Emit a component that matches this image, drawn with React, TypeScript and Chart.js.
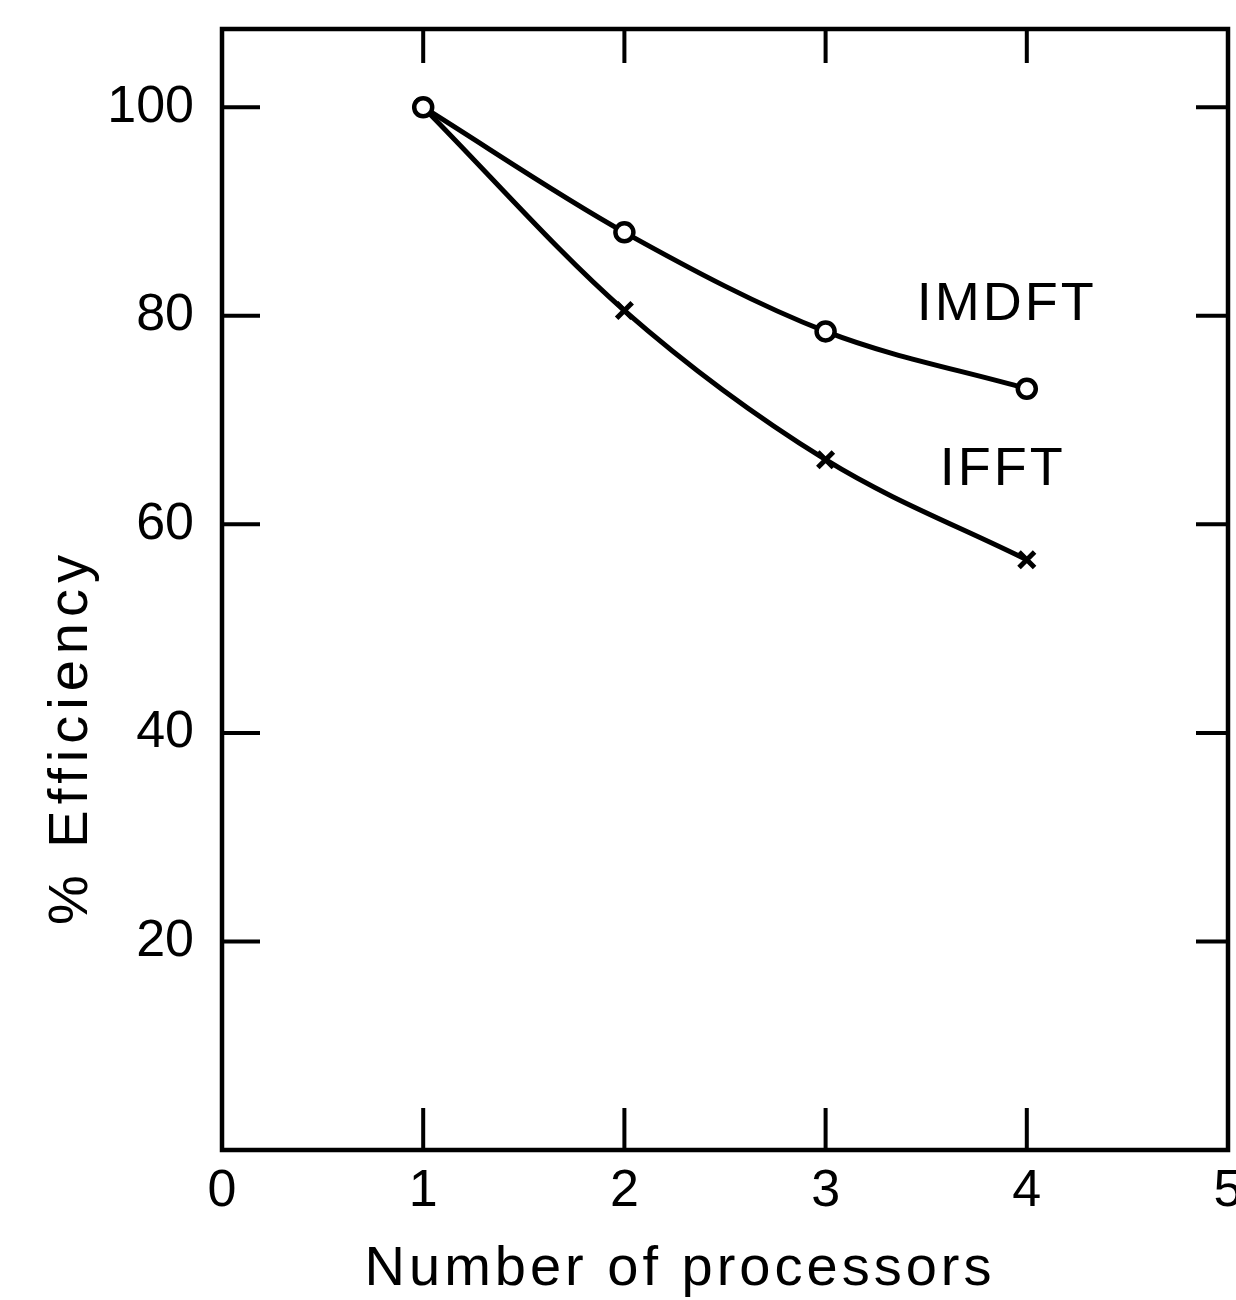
import React, { useEffect, useRef } from 'react';
import { Chart, registerables } from 'chart.js';

Chart.register(...registerables);

// ---- data ----
const processors = [1, 2, 3, 4];
const imdftEfficiency = [100, 88, 78.5, 73];
const ifftEfficiency = [100, 80.5, 66.2, 56.6];
const xTickValues = [0, 1, 2, 3, 4, 5];
const yTickValues = [20, 40, 60, 80, 100];
const innerXTicks = [1, 2, 3, 4];
const seriesNames = ['IMDFT', 'IFFT'];
const seriesLabelX = [3.9, 3.88];
const seriesLabelY = [81, 65.2];
const xTitle = 'Number of processors';
const yTitle = '% Efficiency';

const FONT = '"Liberation Sans", "DejaVu Sans", sans-serif';

const zeroPadding = (s: any) => {
  s.paddingTop = 0;
  s.paddingBottom = 0;
  s.paddingLeft = 0;
  s.paddingRight = 0;
};

const framePlugin = {
  id: 'framePlugin',
  afterDraw(chart: any) {
    const { ctx, chartArea, scales } = chart;
    const xs = scales.x;
    const ys = scales.y;
    const { left, right, top, bottom } = chartArea;
    ctx.save();
    ctx.strokeStyle = '#000';
    ctx.lineCap = 'square';
    // frame
    ctx.lineWidth = 4.5;
    ctx.strokeRect(left, top, right - left, bottom - top);
    // inner ticks
    ctx.lineWidth = 4;
    ctx.beginPath();
    innerXTicks.forEach((v) => {
      const px = xs.getPixelForValue(v);
      ctx.moveTo(px, bottom);
      ctx.lineTo(px, bottom - 40);
      ctx.moveTo(px, top);
      ctx.lineTo(px, top + 32);
    });
    yTickValues.forEach((v) => {
      const py = ys.getPixelForValue(v);
      ctx.moveTo(left, py);
      ctx.lineTo(left + 36, py);
      ctx.moveTo(right, py);
      ctx.lineTo(right - 30, py);
    });
    ctx.stroke();

    // series labels
    ctx.fillStyle = '#000';
    ctx.font = `54px ${FONT}`;
    (ctx as any).letterSpacing = '3px';
    ctx.textAlign = 'center';
    ctx.textBaseline = 'middle';
    seriesNames.forEach((name, i) => {
      ctx.fillText(name, xs.getPixelForValue(seriesLabelX[i]), ys.getPixelForValue(seriesLabelY[i]));
    });

    // axis titles
    ctx.font = `56px ${FONT}`;
    (ctx as any).letterSpacing = '4px';
    ctx.fillText(xTitle, 680, 1270);
    ctx.translate(72, 737);
    ctx.rotate(-Math.PI / 2);
    (ctx as any).letterSpacing = '6px';
    ctx.fillText(yTitle, 0, 0);
    ctx.restore();
  },
};

export default function App() {
  const canvasRef = useRef<HTMLCanvasElement | null>(null);

  useEffect(() => {
    if (!canvasRef.current) return;
    const chart = new Chart(canvasRef.current, {
      type: 'line',
      data: {
        datasets: [
          {
            label: seriesNames[0],
            data: processors.map((p, i) => ({ x: p, y: imdftEfficiency[i] })),
            borderColor: '#000',
            borderWidth: 5,
            pointStyle: 'circle',
            pointRadius: 9,
            pointBorderWidth: 4.5,
            pointBackgroundColor: '#fff',
            pointBorderColor: '#000',
            cubicInterpolationMode: 'monotone',
            fill: false,
          },
          {
            label: seriesNames[1],
            data: processors.map((p, i) => ({ x: p, y: ifftEfficiency[i] })),
            borderColor: '#000',
            borderWidth: 5,
            pointStyle: 'crossRot',
            pointRadius: 11,
            pointBorderWidth: 5,
            pointBorderColor: '#000',
            cubicInterpolationMode: 'monotone',
            fill: false,
          },
        ],
      },
      options: {
        animation: false,
        responsive: false,
        events: [],
        layout: { padding: { left: 0, top: 29, right: 8, bottom: 0 }, autoPadding: false } as any,
        plugins: { legend: { display: false }, tooltip: { enabled: false } },
        scales: {
          x: {
            type: 'linear',
            min: 0,
            max: 5,
            afterBuildTicks: (s: any) => {
              s.ticks = xTickValues.map((v) => ({ value: v }));
            },
            afterFit: (s: any) => {
              s.height = 150;
              zeroPadding(s);
            },
            ticks: {
              color: '#000',
              font: { family: FONT, size: 52 },
              padding: 2,
              autoSkip: false,
              maxRotation: 0,
              callback: (v: any) => String(v),
            },
            grid: { display: false },
            border: { display: false },
          },
          y: {
            type: 'linear',
            min: 0,
            max: 107.5,
            afterBuildTicks: (s: any) => {
              s.ticks = yTickValues.map((v) => ({ value: v }));
            },
            afterFit: (s: any) => {
              s.width = 222;
              zeroPadding(s);
            },
            ticks: {
              color: '#000',
              font: { family: FONT, size: 52 },
              padding: 20,
              autoSkip: false,
              callback: (v: any) => String(v),
            },
            grid: { display: false },
            border: { display: false },
          },
        },
      },
      plugins: [framePlugin],
    } as any);
    return () => chart.destroy();
  }, []);

  return (
    <div style={{ position: 'absolute', left: 0, top: 0, width: 1236, height: 1300, background: '#fff' }}>
      <canvas ref={canvasRef} width={1236} height={1300} style={{ display: 'block' }} />
    </div>
  );
}
